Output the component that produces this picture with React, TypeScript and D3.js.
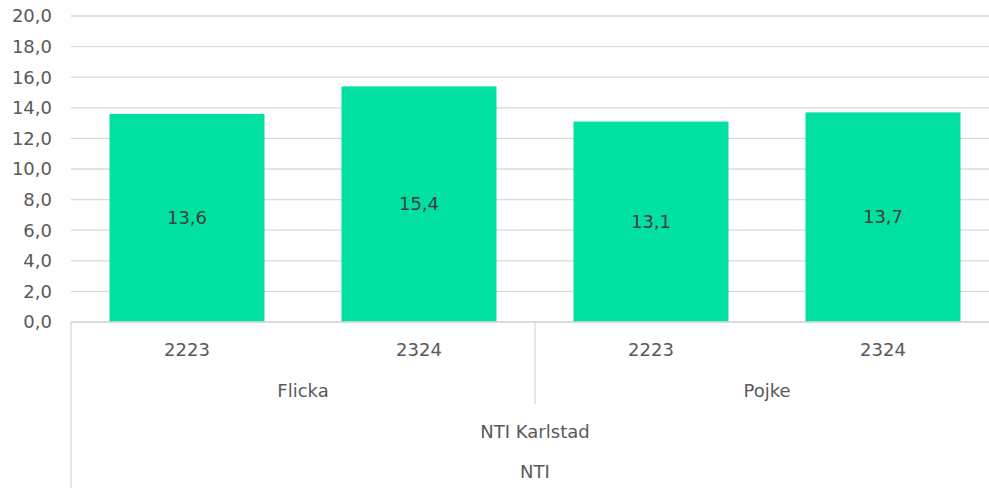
import React, { useRef, useEffect } from "react";
import * as d3 from "d3";

const categories = ["Flicka|2223", "Flicka|2324", "Pojke|2223", "Pojke|2324"];
const years = ["2223", "2324", "2223", "2324"];
const groups = ["Flicka", "Pojke"];
const values = [13.6, 15.4, 13.1, 13.7];
const yTicks = [0, 2, 4, 6, 8, 10, 12, 14, 16, 18, 20];

const width = 989;
const height = 490;
// the plot area runs a little past the right edge of the picture
const margin = { top: 16, right: -10, bottom: 168, left: 71 };
const fmt = (v: number) => v.toFixed(1).replace(".", ",");

export default function App() {
  const svgRef = useRef<SVGSVGElement>(null);

  useEffect(() => {
    const svg = d3.select(svgRef.current);
    svg.selectAll("*").remove();
    const font = "'DejaVu Sans', sans-serif";
    const textColor = "#595959";
    const lineColor = "#d9d9d9";

    const x = d3
      .scaleBand()
      .domain(categories)
      .range([margin.left, width - margin.right])
      .paddingInner(0.332)
      .paddingOuter(0.166);

    const y = d3
      .scaleLinear()
      .domain([0, 20])
      .range([height - margin.bottom, margin.top]);

    // gridlines
    svg
      .append("g")
      .selectAll("line")
      .data(yTicks)
      .join("line")
      .attr("x1", margin.left)
      .attr("x2", width - margin.right)
      .attr("y1", (d) => y(d))
      .attr("y2", (d) => y(d))
      .attr("stroke", lineColor)
      .attr("stroke-width", 1.3);

    // y tick labels
    svg
      .append("g")
      .selectAll("text")
      .data(yTicks)
      .join("text")
      .attr("x", 52)
      .attr("y", (d) => y(d))
      .attr("dy", "0.35em")
      .attr("text-anchor", "end")
      .attr("font-family", font)
      .attr("font-size", 18)
      .attr("fill", textColor)
      .text((d) => fmt(d));

    // bars
    svg
      .append("g")
      .selectAll("rect")
      .data(values)
      .join("rect")
      .attr("x", (d, i) => x(categories[i])!)
      .attr("y", (d) => y(d))
      .attr("width", x.bandwidth())
      .attr("height", (d) => y(0) - y(d))
      .attr("fill", "#00e1a1");

    // value labels
    svg
      .append("g")
      .selectAll("text")
      .data(values)
      .join("text")
      .attr("x", (d, i) => x(categories[i])! + x.bandwidth() / 2)
      .attr("y", (d) => (y(d) + y(0)) / 2)
      .attr("dy", "0.35em")
      .attr("text-anchor", "middle")
      .attr("font-family", font)
      .attr("font-size", 18)
      .attr("fill", "#404040")
      .text((d) => fmt(d));

    const y0 = y(0);
    const step = x.step();

    // axis line & separators
    const axis = svg.append("g").attr("stroke", lineColor).attr("stroke-width", 1.3);
    axis.append("line").attr("x1", margin.left).attr("x2", width - margin.right).attr("y1", y0).attr("y2", y0);
    axis.append("line").attr("x1", margin.left).attr("x2", margin.left).attr("y1", y0).attr("y2", height - 2);
    axis
      .append("line")
      .attr("x1", margin.left + step * 2)
      .attr("x2", margin.left + step * 2)
      .attr("y1", y0)
      .attr("y2", 404);

    // year labels
    svg
      .append("g")
      .selectAll("text")
      .data(years)
      .join("text")
      .attr("x", (d, i) => x(categories[i])! + x.bandwidth() / 2)
      .attr("y", 350)
      .attr("dy", "0.35em")
      .attr("text-anchor", "middle")
      .attr("font-family", font)
      .attr("font-size", 18)
      .attr("fill", textColor)
      .text((d) => d);

    // group labels
    svg
      .append("g")
      .selectAll("text")
      .data(groups)
      .join("text")
      .attr("x", (d, i) => margin.left + step * (2 * i + 1))
      .attr("y", 391)
      .attr("dy", "0.35em")
      .attr("text-anchor", "middle")
      .attr("font-family", font)
      .attr("font-size", 18)
      .attr("fill", textColor)
      .text((d) => d);

    const mid = (margin.left + width - margin.right) / 2;
    svg
      .append("text")
      .attr("x", mid)
      .attr("y", 432)
      .attr("dy", "0.35em")
      .attr("text-anchor", "middle")
      .attr("font-family", font)
      .attr("font-size", 18)
      .attr("fill", textColor)
      .text("NTI Karlstad");
    svg
      .append("text")
      .attr("x", mid)
      .attr("y", 472)
      .attr("dy", "0.35em")
      .attr("text-anchor", "middle")
      .attr("font-family", font)
      .attr("font-size", 18)
      .attr("fill", textColor)
      .text("NTI");
  });

  return (
    <svg
      ref={svgRef}
      width={width}
      height={height}
      style={{ position: "absolute", left: 0, top: 0, background: "#fff" }}
    ></svg>
  );
}
